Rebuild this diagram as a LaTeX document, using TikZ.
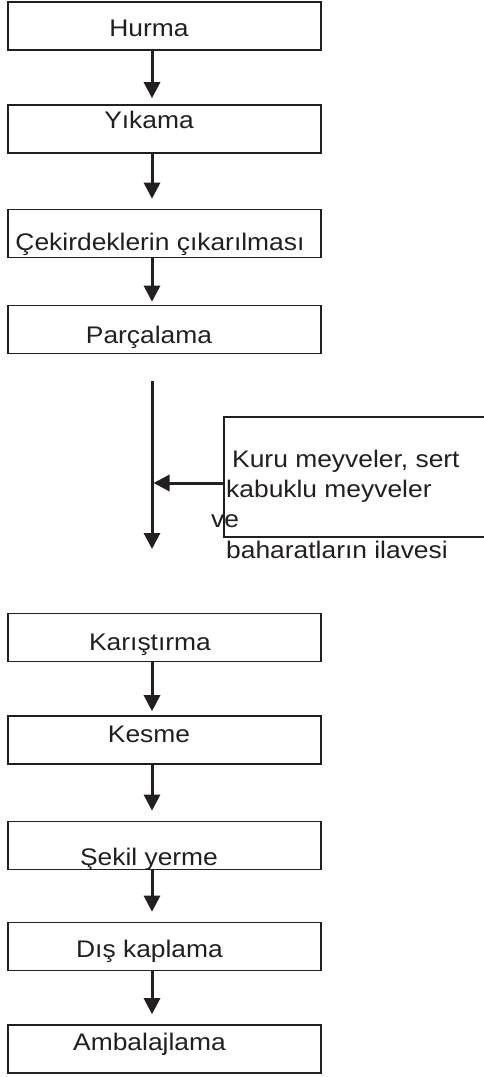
\documentclass[tikz,border=0pt]{standalone}
\usepackage{fontspec}
\setmainfont{Liberation Sans}[FakeStretch=1.1]
\usetikzlibrary{arrows.meta}
\definecolor{ink}{HTML}{231F20}
\begin{document}
\begin{tikzpicture}[x=1pt,y=-1pt,
  box/.style={draw=ink, line width=1.6pt, inner sep=0pt, minimum width=313pt, minimum height=48pt},
  lbl/.style={inner sep=0pt, anchor=base, text=ink, font=\fontsize{24}{29}\selectfont},
  llbl/.style={lbl, anchor=base west},
  flow/.style={draw=ink, line width=3pt, -{Triangle[width=16pt,length=16pt]}}]
\useasboundingbox (0,0) rectangle (484,1077);
\fill[white] (0,0) rectangle (484,1077);
% boxes
\node[box] (hurma) at (164.5,26) {};
\node[box] (yikama) at (164.5,129) {};
\node[box] (cekir) at (164.5,233.5) {};
\node[box] (parca) at (164.5,329.5) {};
\node[box] (karis) at (164.5,637.5) {};
\node[box] (kesme) at (164.5,740) {};
\node[box] (sekil) at (164.5,845.5) {};
\node[box] (dis) at (164.5,946.5) {};
\node[box] (ambal) at (164.5,1049) {};
\node[draw=ink, line width=1.6pt, inner sep=0pt, minimum width=266pt, minimum height=120pt] (side) at (357,477) {};
% labels
\node[lbl] (t1) at (149,36.5) {Hurma};
\node[lbl] (t2) at (149,128) {Yıkama};
\node[lbl] (t3) at (160,250) {Çekirdeklerin çıkarılması};
\node[lbl] (t4) at (149,343) {Parçalama};
\node[lbl] (t5) at (150,650) {Karıştırma};
\node[lbl] (t6) at (149,742) {Kesme};
\node[lbl] (t7) at (149,865) {Şekil yerme};
\node[lbl] (t8) at (149.5,957) {Dış kaplama};
\node[lbl] (t9) at (149.5,1050) {Ambalajlama};
\node[llbl] (s1) at (232,467) {Kuru meyveler, sert};
\node[llbl] (s2) at (226,497) {kabuklu meyveler};
\node[llbl] (s3) at (211,527) {ve};
\node[llbl] (s4) at (226,558) {baharatların ilavesi};
% connectors
\coordinate (ax) at (152,0);
\draw[flow] (hurma.south -| ax) -- ([yshift=6pt]yikama.north -| ax);
\draw[flow] (yikama.south -| ax) -- ([yshift=10pt]cekir.north -| ax);
\draw[flow] (cekir.south -| ax) -- ([yshift=3pt]parca.north -| ax);
\coordinate (ltop) at (152,381);
\coordinate (lbot) at (152,549);
\coordinate (join) at (152,483);
\draw[flow] (ltop) -- (lbot);
\draw[flow] (side.west |- join) -- ([xshift=1.5pt]join);
\draw[flow] (karis.south -| ax) -- ([yshift=4pt]kesme.north -| ax);
\draw[flow] (kesme.south -| ax) -- ([yshift=10pt]sekil.north -| ax);
\draw[flow] (sekil.south -| ax) -- ([yshift=10pt]dis.north -| ax);
\draw[flow] (dis.south -| ax) -- ([yshift=10pt]ambal.north -| ax);
\end{tikzpicture}
\end{document}
